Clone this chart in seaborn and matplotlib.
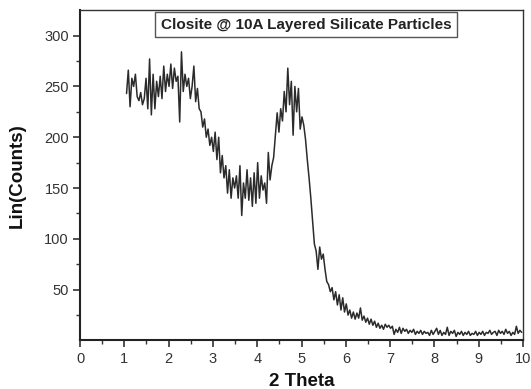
import numpy as np
import pandas as pd
import matplotlib
matplotlib.use("Agg")
import matplotlib.pyplot as plt
import seaborn as sns
from matplotlib.ticker import MultipleLocator, FixedLocator

# ---- data ----
theta_start = 1.05
theta_step = 0.04
counts = [
    # 1.05 - 2.01
    243, 266, 230, 258, 250, 262, 240, 236, 244, 232, 238, 258, 228, 277, 222,
    262, 228, 255, 240, 260, 238, 270, 245, 262, 250,
    # 2.05 - 3.01
    272, 248, 268, 255, 260, 215, 284, 245, 262, 250, 258, 238, 250, 270, 235,
    248, 228, 225, 210, 218, 200, 208, 192, 200, 186,
    # 3.05 - 4.01
    205, 178, 200, 165, 182, 160, 172, 145, 168, 140, 160, 150, 162, 140, 172,
    123, 155, 140, 168, 138, 160, 132, 165, 135, 175,
    # 4.05 - 5.01
    140, 162, 148, 155, 135, 185, 158, 172, 180, 202, 224, 205, 228, 216, 245,
    225, 268, 232, 255, 202, 250, 225, 248, 208, 220,
    # 5.05 - 6.01
    212, 198, 178, 160, 140, 118, 95, 88, 70, 92, 80, 85, 70, 58, 55,
    48, 52, 40, 48, 35, 45, 30, 42, 28, 36,
    # 6.05 - 7.01
    25, 30, 22, 28, 21, 27, 22, 32, 20, 24, 18, 22, 16, 21, 15,
    19, 13, 17, 12, 15, 11, 16, 13, 15, 12,
    # 7.05 - 8.01
    14, 6, 11, 8, 13, 7, 12, 9, 11, 7, 10, 8, 11, 6, 9,
    7, 10, 6, 9, 7, 8, 5, 10, 6, 9,
    # 8.05 - 9.01
    12, 6, 10, 5, 8, 6, 13, 5, 9, 7, 10, 4, 8, 6, 9,
    5, 8, 6, 9, 5, 7, 6, 9, 5, 8,
    # 9.05 - 9.97
    6, 9, 5, 8, 7, 10, 6, 8, 9, 5, 10, 7, 9, 6, 11,
    7, 9, 5, 8, 6, 14, 7, 10, 8,
]
two_theta = np.round(theta_start + theta_step * np.arange(len(counts)), 2)

x_ticks = list(range(0, 11))
y_ticks = [50, 100, 150, 200, 250, 300]
title_text = "Closite @ 10A Layered Silicate Particles"
x_label = "2 Theta"
y_label = "Lin(Counts)"

df = pd.DataFrame({"two_theta": two_theta, "counts": counts})

# ---- styling ----
sns.set_style("white")
fam = ["Liberation Sans", "DejaVu Sans"]
plt.rcParams["font.family"] = fam

fig = plt.figure(figsize=(5.31, 3.89), dpi=100)
ax = fig.add_axes([0.1507, 0.1247, 0.8343, 0.8491])

sns.lineplot(data=df, x="two_theta", y="counts", ax=ax,
             color="#2b2b2b", linewidth=1.1)

ax.set_xlim(0, 10)
ax.set_ylim(0, 325)
ax.xaxis.set_major_locator(FixedLocator(x_ticks))
ax.xaxis.set_minor_locator(MultipleLocator(0.5))
ax.yaxis.set_major_locator(FixedLocator(y_ticks))
ax.yaxis.set_minor_locator(FixedLocator([25, 75, 125, 175, 225, 275]))

ax.tick_params(axis="both", which="major", direction="out", length=5,
               width=1.2, color="#333333", labelsize=10.5,
               labelcolor="#333333", pad=3)
ax.tick_params(axis="both", which="minor", direction="out", length=3,
               width=1.0, color="#333333")
ax.tick_params(axis="x", bottom=True, which="both")
ax.tick_params(axis="y", left=True, which="both")

for side in ["left", "bottom"]:
    ax.spines[side].set_linewidth(1.5)
    ax.spines[side].set_color("#222222")
for side in ["top", "right"]:
    ax.spines[side].set_visible(True)
    ax.spines[side].set_linewidth(1.0)
    ax.spines[side].set_color("#333333")

ax.set_xlabel(x_label, fontsize=13.5, fontweight="bold", color="#111111",
              labelpad=5)
ax.set_ylabel(y_label, fontsize=13.5, fontweight="bold", color="#111111",
              labelpad=13)

ax.text(0.51, 0.956, title_text, transform=ax.transAxes, ha="center",
        va="center", fontsize=11, fontweight="bold", color="#222222",
        bbox=dict(boxstyle="square,pad=0.35", facecolor="white",
                  edgecolor="#555555", linewidth=1.0))

fig.savefig("out.png", dpi=100)
